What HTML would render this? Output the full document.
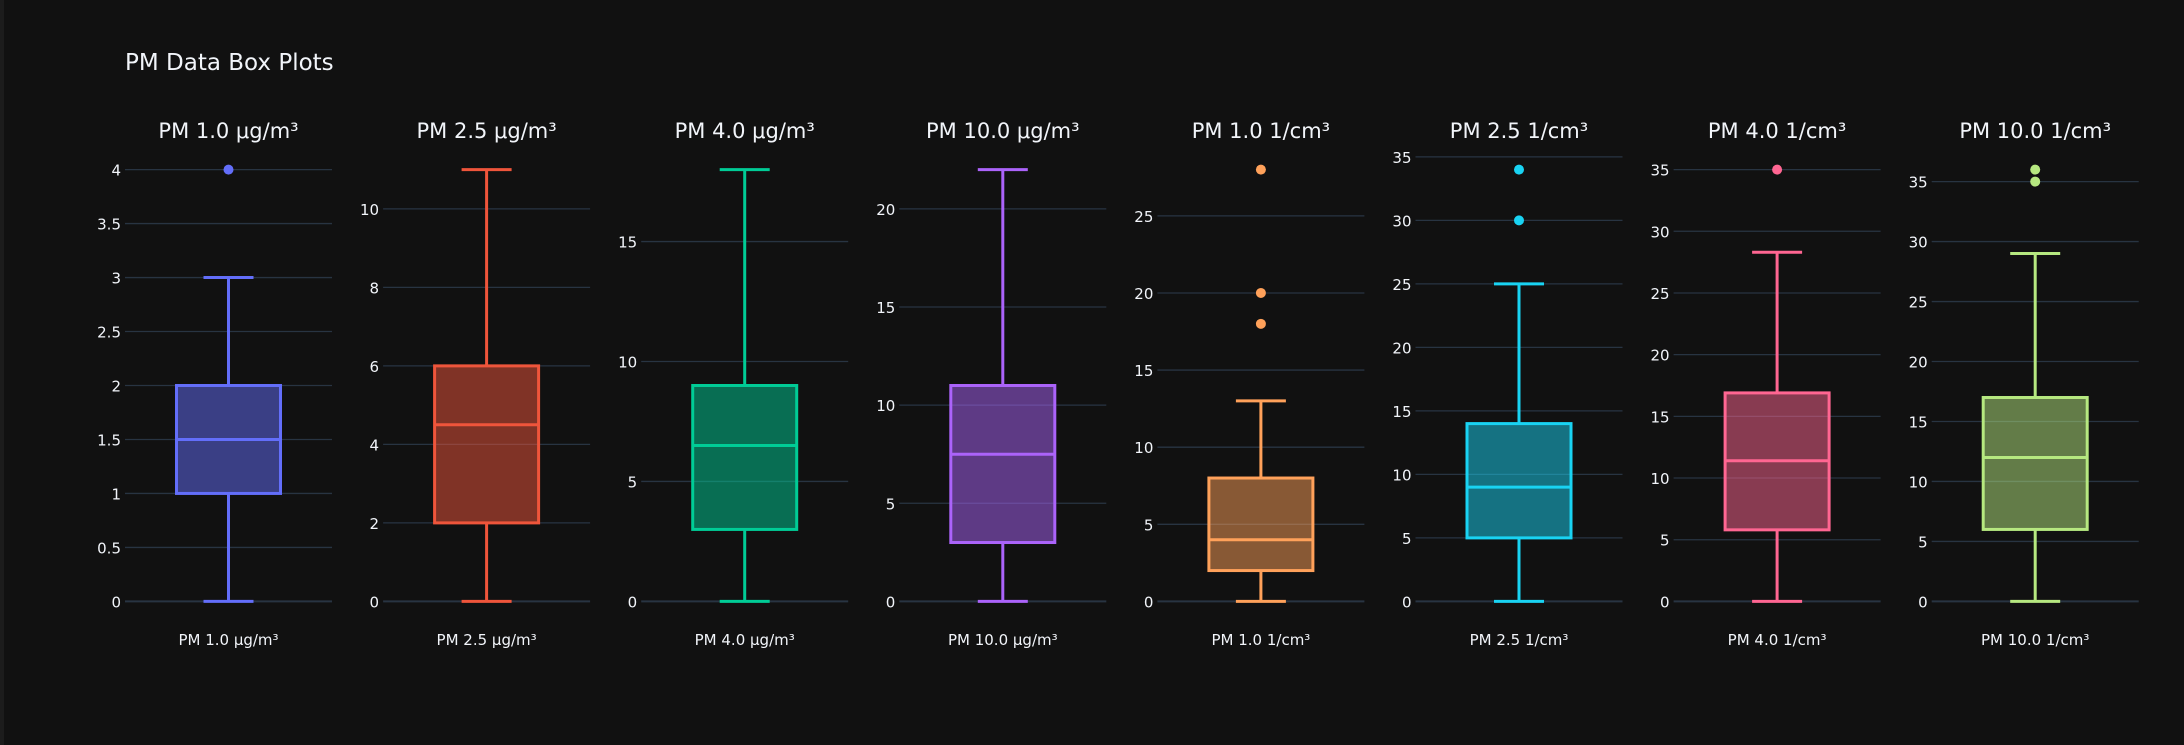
<!DOCTYPE html>
<html><head><meta charset="utf-8"><style>
html,body{margin:0;padding:0;background:#111111;}
svg{display:block;font-family:"DejaVu Sans","Liberation Sans",sans-serif;}
</style></head><body>
<svg id="chart" width="2184" height="745" viewBox="0 0 2184 745" xmlns="http://www.w3.org/2000/svg">
<rect x="0" y="0" width="2184" height="745" fill="#111111"/>
<rect x="0" y="0" width="4" height="745" fill="#1c1c1c"/>
<text x="125" y="70" fill="#f2f5fa" font-size="23">PM Data Box Plots</text>
<g id="panels"></g>
</svg>
<script>
const labels = ["PM 1.0 μg/m³","PM 2.5 μg/m³","PM 4.0 μg/m³","PM 10.0 μg/m³","PM 1.0 1/cm³","PM 2.5 1/cm³","PM 4.0 1/cm³","PM 10.0 1/cm³"];
const mins = [0,0,0,0,0,0,0,0];
const q1s = [1,2,3,3,2,5,5.8,6];
const medians = [1.5,4.5,6.5,7.5,4,9,11.4,12];
const q3s = [2,6,9,11,8,14,16.9,17];
const maxs = [3,11,18,22,13,25,28.3,29];
const outliers = [[4],[],[],[],[18,20,28],[30,34],[35],[35,36]];
const axisMax = [4,11,18,22,28,34,35,36];
const tickStep = [0.5,2,5,5,5,5,5,5];
const colors = ["#636efa","#EF553B","#00cc96","#ab63fa","#FFA15A","#19d3f3","#FF6692","#B6E880"];

const NS="http://www.w3.org/2000/svg";
const g=document.getElementById('panels');
const plotTop=169.6, plotBottom=601.4, panelW=207, panelStart=125, period=258.1;
function mk(tag,attrs,parent){const e=document.createElementNS(NS,tag);for(const k in attrs)e.setAttribute(k,attrs[k]);(parent||g).appendChild(e);return e;}
for(let i=0;i<labels.length;i++){
  const x0=panelStart+period*i, x1=x0+panelW, cx=(x0+x1)/2;
  const y=v=>plotBottom-(v/axisMax[i])*(plotBottom-plotTop);
  const pg=mk('g',{});
  
  
  const n=Math.floor(axisMax[i]/tickStep[i]+1e-9);
  for(let k=0;k<=n+1;k++){
    const v=+(k*tickStep[i]).toFixed(3);
    const yy=y(v);
    if(yy<150) break;
    const ln=mk('line',{x1:x0,x2:x1,y1:yy,y2:yy,stroke:'#283442','stroke-width':k===0?2:1.3},pg);
    
    
    const t=mk('text',{x:x0-4,y:yy+6,'text-anchor':'end',fill:'#f2f5fa','font-size':15},pg);
    
    
    t.textContent=String(v);
  }
  const c=colors[i], bw=104, cw=50;
  const wu=mk('line',{x1:cx,x2:cx,y1:y(maxs[i]),y2:y(q3s[i]),stroke:c,'stroke-width':3},pg);
  
  
  const wl=mk('line',{x1:cx,x2:cx,y1:y(q1s[i]),y2:y(mins[i]),stroke:c,'stroke-width':3},pg);
  
  
  for(const v of [mins[i],maxs[i]]){
    const cap=mk('line',{x1:cx-cw/2,x2:cx+cw/2,y1:y(v),y2:y(v),stroke:c,'stroke-width':3},pg);
    
    
  }
  const box=mk('rect',{x:cx-bw/2,y:y(q3s[i]),width:bw,height:y(q1s[i])-y(q3s[i]),fill:c,'fill-opacity':0.5,stroke:c,'stroke-width':3},pg);
  
  
  const md=mk('line',{x1:cx-bw/2,x2:cx+bw/2,y1:y(medians[i]),y2:y(medians[i]),stroke:c,'stroke-width':3},pg);
  
  
  for(const o of outliers[i]){
    const p=mk('circle',{cx:cx,cy:y(o),r:5,fill:c},pg);
    
    
  }
  const st=mk('text',{x:cx,y:138,'text-anchor':'middle',fill:'#f2f5fa','font-size':21},pg);
  
  
  st.textContent=labels[i];
  const xl=mk('text',{x:cx,y:645,'text-anchor':'middle',fill:'#f2f5fa','font-size':15},pg);
  
  
  xl.textContent=labels[i];
}
</script>
</body></html>
